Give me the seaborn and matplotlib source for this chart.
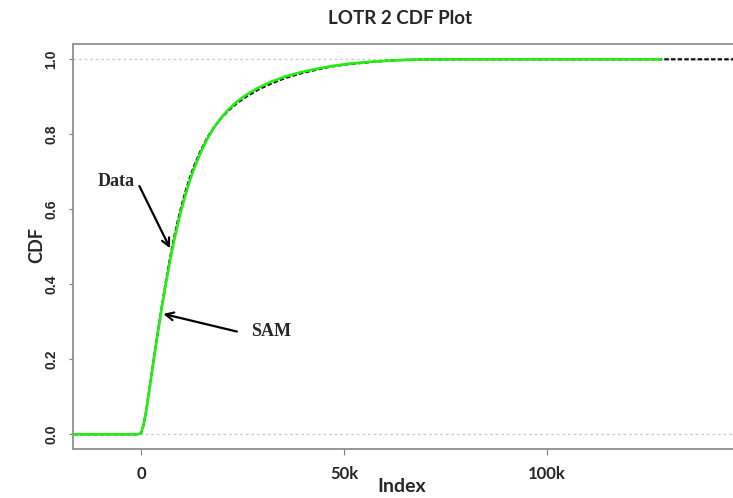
import numpy as np
import pandas as pd
import matplotlib
matplotlib.use("Agg")
import matplotlib.pyplot as plt
import seaborn as sns

# values
sam_x = [-16700, -1000, 0, 600, 1200, 2100, 3000, 4000, 5000, 6000, 7000, 8000,
         9000, 10000, 11000, 12000, 13000, 14500, 16200, 17800, 19500, 21500,
         23600, 26000, 29000, 32000, 35500, 39500, 43500, 47000, 51000, 55000,
         59000, 64000, 69000, 80000, 128000]
sam_cdf = [0.0, 0.0, 0.003, 0.025, 0.058, 0.123, 0.19, 0.262, 0.33, 0.395, 0.455,
           0.51, 0.558, 0.602, 0.641, 0.676, 0.707, 0.747, 0.786, 0.815, 0.841,
           0.866, 0.887, 0.906, 0.925, 0.94, 0.954, 0.966, 0.975, 0.982, 0.988,
           0.992, 0.995, 0.998, 0.9995, 1.0, 1.0]

data_x = [-16700, -1000, 0, 600, 1200, 2100, 3000, 4000, 5000, 6000, 7000, 8000,
          9000, 10000, 11000, 12000, 13000, 14500, 16200, 17800, 19500, 21500,
          23600, 26000, 29000, 32000, 35500, 39500, 43500, 47000, 51000, 55000,
          59000, 64000, 69000, 80000, 128000, 152000]
data_cdf = [0.0, 0.0, 0.003, 0.025, 0.058, 0.123, 0.19, 0.263, 0.333, 0.4, 0.462,
            0.518, 0.567, 0.611, 0.65, 0.684, 0.714, 0.752, 0.789, 0.816, 0.84,
            0.863, 0.883, 0.901, 0.92, 0.935, 0.95, 0.963, 0.973, 0.981, 0.987,
            0.991, 0.995, 0.998, 0.9995, 1.0, 1.0, 1.0]

x_ticks = [0, 50000, 100000]
x_tick_labels = ["0", "50k", "100k"]
y_ticks = [0.0, 0.2, 0.4, 0.6, 0.8, 1.0]

df_data = pd.DataFrame({"Index": data_x, "CDF": data_cdf})
df_sam = pd.DataFrame({"Index": sam_x, "CDF": sam_cdf})

sns.set_style("white")
sans = ["Lato", "DejaVu Sans"]

fig = plt.figure(figsize=(7.33, 4.98), dpi=100)
# axes runs past the right edge, like the cropped original
ax = fig.add_axes([73.3 / 733, 48.7 / 498, 684.8 / 733, 405 / 498])

ax.axhline(0, color="#cccccc", ls=(0, (2, 2)), lw=1, zorder=1)
ax.axhline(1, color="#cccccc", ls=(0, (2, 2)), lw=1, zorder=1)

sns.lineplot(data=df_data, x="Index", y="CDF", ax=ax, color="#111111",
             lw=1.6, ls=(0, (2, 1)), zorder=2)
sns.lineplot(data=df_sam, x="Index", y="CDF", ax=ax, color="#22ee11",
             lw=1.9, zorder=3)

ax.set_xlim(-16700, 152000)
ax.set_ylim(-0.04, 1.04)

for side in ["left", "top", "bottom", "right"]:
    ax.spines[side].set_color("#909090")
    ax.spines[side].set_linewidth(1.3)

ax.set_xticks(x_ticks)
ax.set_xticklabels(x_tick_labels, family=sans, fontweight="bold", fontsize=12)
ax.set_yticks(y_ticks)
ax.set_yticklabels([f"{v:.1f}" for v in y_ticks], family="Liberation Sans",
                   fontweight="bold", fontsize=10, rotation=90, va="center")
ax.tick_params(axis="x", length=4, color="#808080", pad=8, bottom=True)
ax.tick_params(axis="y", length=3, color="#808080", pad=8, left=True)

ax.set_xlabel("")
ax.set_ylabel("")
fig.text(401.7 / 733, 1 - 486.7 / 498, "Index", ha="center", va="center",
         family=sans, fontweight="bold", fontsize=14)
fig.text(37 / 733, 1 - 245 / 498, "CDF", ha="center", va="center", rotation=90,
         family=sans, fontweight="bold", fontsize=13)
fig.text(400 / 733, 1 - 18 / 498, "LOTR 2 CDF Plot", ha="center", va="center",
         family=sans, fontweight="bold", fontsize=13.5)

ax.text(-6160, 0.675, "Data", ha="center", va="center", family="Liberation Serif",
        fontweight="bold", fontsize=13)
ax.annotate("", xy=(7140, 0.496), xytext=(-420, 0.662),
            arrowprops=dict(arrowstyle="->", color="black", lw=1.6,
                            shrinkA=0, shrinkB=0, mutation_scale=14))
ax.text(31900, 0.274, "SAM", ha="center", va="center", family="Liberation Serif",
        fontweight="bold", fontsize=13)
ax.annotate("", xy=(5490, 0.321), xytext=(23600, 0.274),
            arrowprops=dict(arrowstyle="->", color="black", lw=1.6,
                            shrinkA=0, shrinkB=0, mutation_scale=14))

fig.savefig("out.png", dpi=100)
